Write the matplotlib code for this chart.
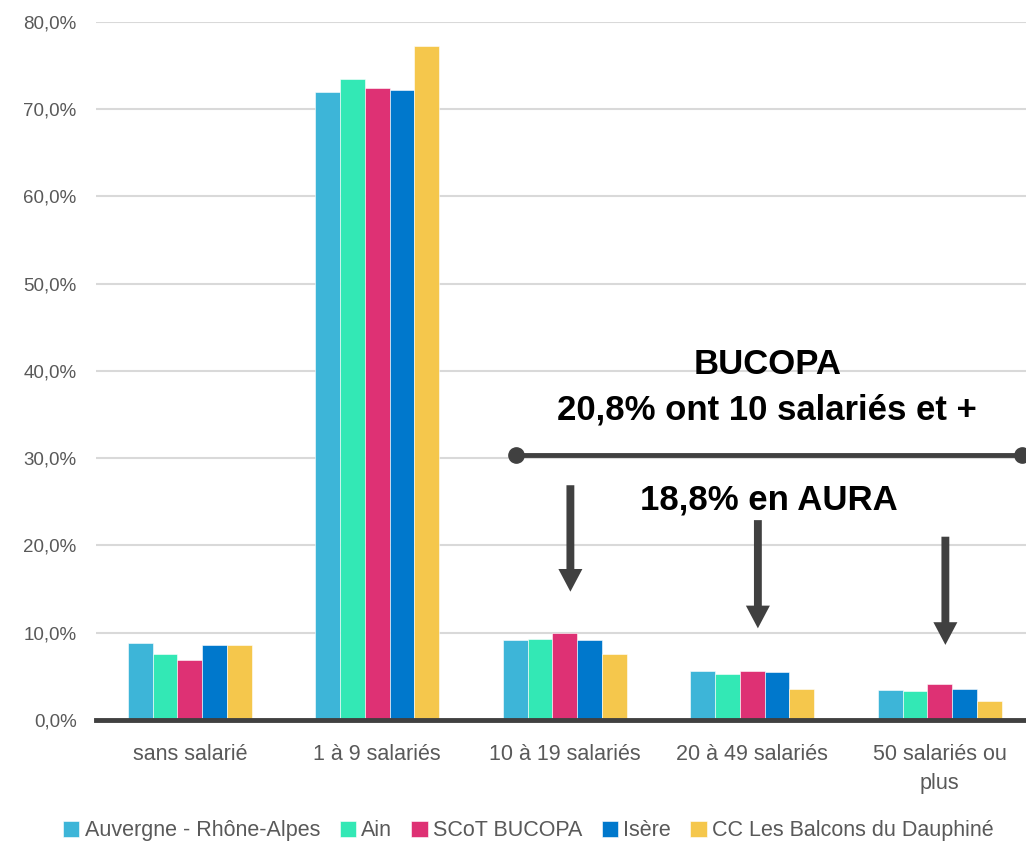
import matplotlib.pyplot as plt
import numpy as np

# categories and series (percent of establishments)
categories = ["sans salarié", "1 à 9 salariés", "10 à 19 salariés",
              "20 à 49 salariés", "50 salariés ou\nplus"]
series_names = ["Auvergne - Rhône-Alpes", "Ain", "SCoT BUCOPA", "Isère",
                "CC Les Balcons du Dauphiné"]
ara = [8.8, 72.0, 9.2, 5.6, 3.4]
ain = [7.6, 73.5, 9.3, 5.3, 3.3]
scot = [6.9, 72.4, 10.0, 5.6, 4.1]
isere = [8.6, 72.2, 9.2, 5.5, 3.5]
balcons = [8.6, 77.2, 7.6, 3.5, 2.2]
yticks = [0, 10, 20, 30, 40, 50, 60, 70, 80]

colors = ["#3DB5D8", "#33E8B5", "#DE3174", "#0078CC", "#F5C74C"]
dark = "#404040"

plt.rcParams['font.family'] = ['Liberation Sans', 'DejaVu Sans']

fig = plt.figure(figsize=(10.26, 8.44), dpi=100)
ax = fig.add_axes([0.0936, 0.147, 0.9064, 0.827])

x = np.arange(len(categories))
w = 0.132
all_series = [ara, ain, scot, isere, balcons]
for i, (vals, name, c) in enumerate(zip(all_series, series_names, colors)):
    ax.bar(x + (i - 2) * w, vals, w, color=c, label=name,
           edgecolor="white", linewidth=0.4, zorder=3)

ax.set_ylim(0, 80)
ax.set_xlim(-0.5, 4.46)
ax.set_yticks(yticks)
ax.set_yticklabels([f"{v:.1f}%".replace(".", ",") for v in yticks],
                   fontsize=13.5, color="#595959")
ax.set_xticks(x)
ax.set_xticklabels(categories, fontsize=15.5, color="#595959",
                   linespacing=1.5)
ax.tick_params(length=0, axis="both")
ax.tick_params(axis="y", pad=14)
ax.tick_params(axis="x", pad=17)
ax.grid(axis="y", color="#D9D9D9", linewidth=1.5, zorder=0)
for s in ["top", "right", "left"]:
    ax.spines[s].set_visible(False)
ax.spines["bottom"].set_color(dark)
ax.spines["bottom"].set_linewidth(3.5)
ax.spines["bottom"].set_zorder(4)

# annotations
ax.plot([1.74, 4.44], [30.4, 30.4], color=dark, lw=3.5, marker="o",
        markersize=11, zorder=5, clip_on=False)
ax.text(3.08, 40.7, "BUCOPA", ha="center", va="center", fontsize=25,
        fontweight="bold", color="black", zorder=6)
ax.text(3.08, 35.5, "20,8% ont 10 salariés et +", ha="center", va="center",
        fontsize=25, fontweight="bold", color="black", zorder=6)
ax.text(3.09, 25.2, "18,8% en AURA", ha="center", va="center", fontsize=25,
        fontweight="bold", color="black", zorder=6)
for ax_x, y0, y1 in [(2.03, 26.9, 14.7), (3.03, 22.9, 10.5), (4.03, 21.0, 8.6)]:
    ax.arrow(ax_x, y0, 0, y1 - y0, width=0.042, head_width=0.128,
             head_length=2.6, length_includes_head=True, color=dark,
             linewidth=0, zorder=6)

leg = fig.legend(loc="center", bbox_to_anchor=(0.515, 0.0155), ncol=5,
                 frameon=False, fontsize=15.5, handlelength=0.75,
                 handleheight=0.75, handletextpad=0.25, columnspacing=0.9)
for t in leg.get_texts():
    t.set_color("#595959")

fig.savefig("out.png", dpi=100)
